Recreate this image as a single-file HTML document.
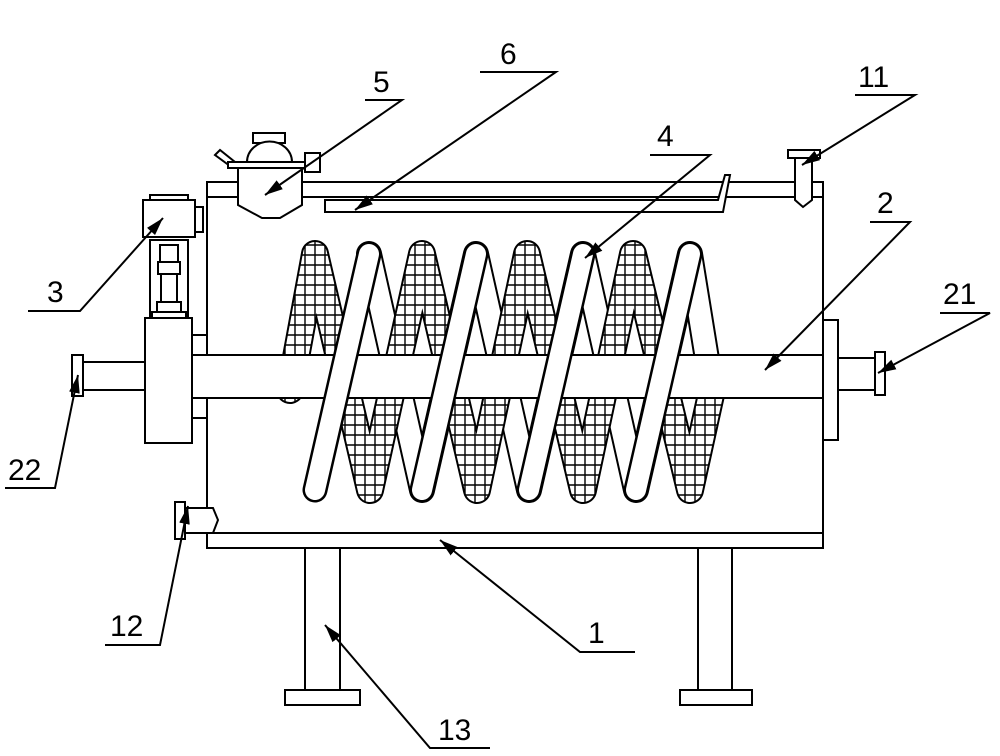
<!DOCTYPE html>
<html><head><style>body{margin:0;background:#fff}svg{display:block}</style></head><body>
<svg width="1000" height="756" viewBox="0 0 1000 756" xmlns="http://www.w3.org/2000/svg" font-family="Liberation Sans, sans-serif">
<defs>
<pattern id="h" width="10" height="10" patternUnits="userSpaceOnUse"><rect width="10" height="10" fill="#fff"/><path d="M0 5H10M5 0V10" stroke="#000" stroke-width="1.4"/></pattern>
<marker id="a" viewBox="0 0 10 10" refX="10" refY="5" markerWidth="9" markerHeight="9" orient="auto"><path d="M0 2L10 5L0 8z" fill="#000"/></marker>
</defs>
<g fill="#fff" stroke="#000" stroke-width="2">
<rect x="305" y="548" width="35" height="142"/><rect x="285" y="690" width="75" height="15"/>
<rect x="698" y="548" width="34" height="142"/><rect x="680" y="690" width="72" height="15"/>
<rect x="207" y="182" width="616" height="366"/>
<line x1="207" y1="197" x2="823" y2="197"/>
<line x1="207" y1="533" x2="823" y2="533"/>
</g>
<g fill="none" stroke-linejoin="round" stroke-linecap="round">
<polyline points="369,254 422,490 476,254 529,490 583,254 636,490 690,254 712,390" stroke="#000" stroke-width="26"/>
<polyline points="369,254 422,490 476,254 529,490 583,254 636,490 690,254 712,390" stroke="#fff" stroke-width="22"/>
<polyline points="290,390 315,254 370,490 422,254 477,490 527,254 583,490 633,254 690,490 712,390" stroke="#000" stroke-width="28"/>
<polyline points="290,390 315,254 370,490 422,254 477,490 527,254 583,490 633,254 690,490 712,390" stroke="url(#h)" stroke-width="24"/>
</g>
<g fill="#fff" stroke="#000" stroke-width="2">
<rect x="190" y="355" width="640" height="43"/>
<rect x="823" y="320" width="15" height="120"/>
<rect x="838" y="358" width="37" height="32"/>
<rect x="875" y="352" width="10" height="43"/>
<rect x="192" y="335" width="15" height="20"/><rect x="192" y="398" width="15" height="20"/>
<rect x="145" y="318" width="47" height="125"/>
<rect x="83" y="362" width="62" height="28"/>
<rect x="72" y="355" width="11" height="41"/>
</g>
<g stroke-linecap="round">
<g stroke="#000" stroke-width="25">
<line x1="315" y1="490" x2="369" y2="254"/><line x1="422" y1="490" x2="476" y2="254"/><line x1="529" y1="490" x2="583" y2="254"/><line x1="636" y1="490" x2="690" y2="254"/>
</g>
<g stroke="#fff" stroke-width="20">
<line x1="315" y1="490" x2="369" y2="254"/><line x1="422" y1="490" x2="476" y2="254"/><line x1="529" y1="490" x2="583" y2="254"/><line x1="636" y1="490" x2="690" y2="254"/>
</g>
</g>
<g fill="#fff" stroke="#000" stroke-width="2">
<rect x="150" y="240" width="38" height="78"/>
<rect x="160" y="245" width="18" height="25"/><rect x="158" y="262" width="22" height="12"/>
<rect x="161" y="274" width="16" height="28"/><rect x="157" y="302" width="24" height="10"/><rect x="152" y="312" width="34" height="6"/>
<rect x="150" y="195" width="38" height="5"/>
<rect x="143" y="200" width="52" height="37"/>
<rect x="195" y="207" width="8" height="25"/>
<rect x="253" y="133" width="32" height="10"/>
<path d="M247 162 A22 20 0 0 1 292 162Z"/>
<path d="M238 168 H302 V205 L280 218 H262 L238 205Z"/>
<path d="M215 155 L220 150 L235 162 L230 166Z"/>
<rect x="228" y="162" width="84" height="6"/>
<rect x="305" y="153" width="15" height="19"/>
<path d="M325 200 H718 L725 175 H730 L723 212 H325Z"/>
<path d="M795 158 H812 V200 L803 207 L795 200Z"/>
<rect x="788" y="150" width="32" height="8"/>
<path d="M185 508 H213 L218 520 L213 533 H185Z"/>
<rect x="175" y="502" width="10" height="37"/>
</g>
<g stroke="#000" stroke-width="2" fill="none">
<path d="M365 100H402L265 195" marker-end="url(#a)"/>
<path d="M480 72H556L355 210" marker-end="url(#a)"/>
<path d="M650 155H710L585 258" marker-end="url(#a)"/>
<path d="M855 95H915L802 165" marker-end="url(#a)"/>
<path d="M870 222H910L765 370" marker-end="url(#a)"/>
<path d="M940 313H990L878 373" marker-end="url(#a)"/>
<path d="M28 311H80L163 218" marker-end="url(#a)"/>
<path d="M5 488H55L78 375" marker-end="url(#a)"/>
<path d="M105 645H160L188 506" marker-end="url(#a)"/>
<path d="M635 652H580L440 540" marker-end="url(#a)"/>
<path d="M490 748H430L325 625" marker-end="url(#a)"/>
</g>
<g font-size="30" fill="#000">
<text x="373" y="92">5</text><text x="500" y="64">6</text><text x="657" y="146">4</text>
<text x="858" y="87">11</text><text x="877" y="213">2</text><text x="943" y="304">21</text>
<text x="47" y="302">3</text><text x="8" y="480">22</text><text x="110" y="636">12</text>
<text x="588" y="643">1</text><text x="438" y="740">13</text>
</g>
</svg>
</body></html>
